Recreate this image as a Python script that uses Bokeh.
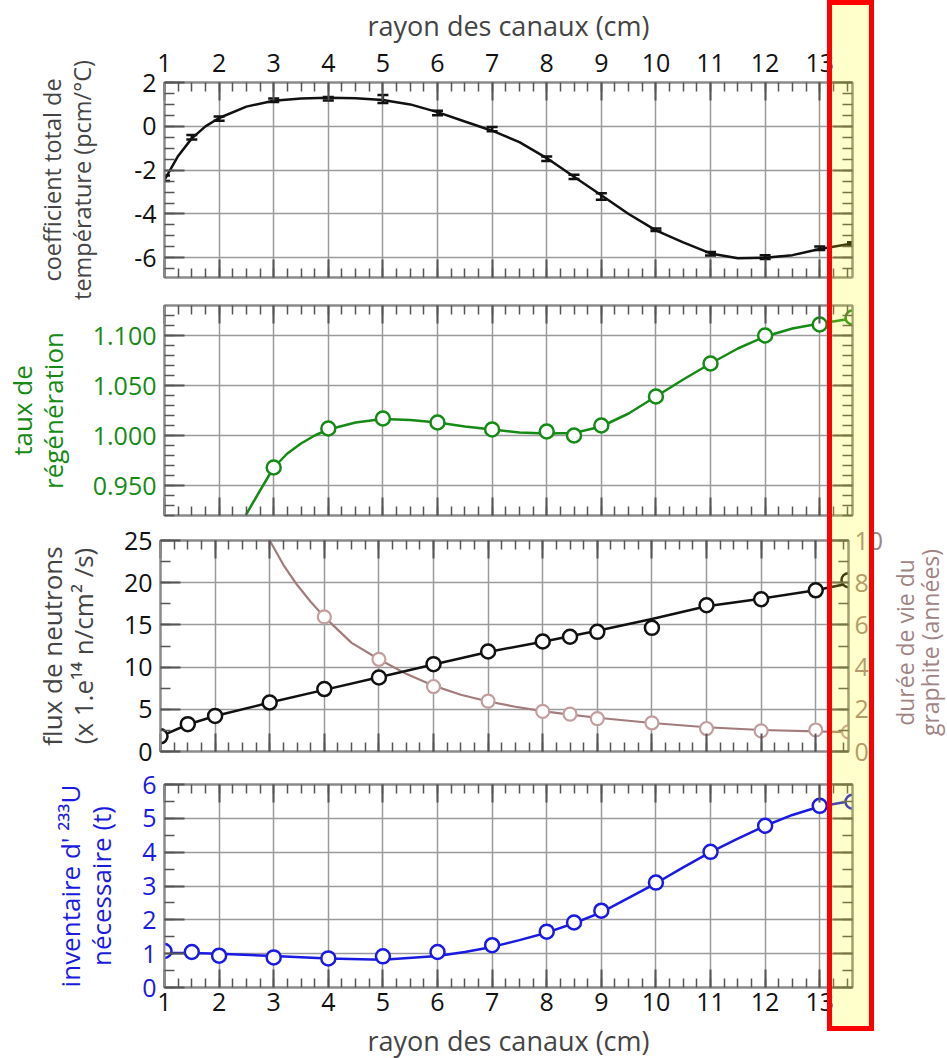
from math import pi
from bokeh.plotting import figure
from bokeh.layouts import column, row
from bokeh.models import (Range1d, LinearAxis, SingleIntervalTicker, NumeralTickFormatter,
                          CustomLabelingPolicy, AllLabels, InlineStyleSheet, Label)
from bokeh.embed import file_html
from bokeh.resources import INLINE

FONT = "Open Sans"

# ---------------- data ----------------
x_ticks = list(range(1, 14))
rayon = [1, 1.5, 2, 3, 4, 5, 6, 7, 8, 8.5, 9, 10, 11, 12, 13, 13.6]

# panel 1 : coefficient total de température (pcm/°C)
coef_temp = [-2.37, -0.5, 0.35, 1.19, 1.26, 1.25, 0.61, -0.13, -1.48, -2.31, -3.2,
             -4.72, -5.82, -5.97, -5.56, -5.37]
coef_err = [0.12, 0.1, 0.1, 0.08, 0.08, 0.18, 0.1, 0.1, 0.1, 0.1, 0.15,
            0.06, 0.08, 0.08, 0.08, 0.08]
coef_curve_x = [1, 1.25, 1.5, 1.75, 2, 2.5, 3, 3.5, 4, 4.5, 5, 5.5, 6, 6.5, 7, 7.5,
                8, 8.5, 9, 9.5, 10, 10.5, 11, 11.5, 12, 12.5, 13, 13.6]
coef_curve_y = [-2.45, -1.35, -0.55, 0.0, 0.38, 0.9, 1.17, 1.27, 1.3, 1.28, 1.2, 1.0,
                0.65, 0.22, -0.2, -0.72, -1.45, -2.3, -3.15, -4.0, -4.75, -5.3,
                -5.8, -6.02, -6.0, -5.88, -5.6, -5.35]

# panel 2 : taux de régénération
regen_x = [3, 4, 5, 6, 7, 8, 8.5, 9, 10, 11, 12, 13, 13.6]
regen = [0.968, 1.007, 1.017, 1.013, 1.006, 1.004, 1.000, 1.010, 1.039, 1.072,
         1.100, 1.111, 1.118]
regen_curve_x = [2.4, 2.75, 3, 3.25, 3.5, 3.75, 4, 4.5, 5, 5.5, 6, 6.5, 7, 7.5, 8,
                 8.5, 9, 9.5, 10, 10.5, 11, 11.5, 12, 12.5, 13, 13.6]
regen_curve_y = [0.912, 0.945, 0.968, 0.982, 0.992, 1.000, 1.006, 1.013, 1.0165,
                 1.0155, 1.013, 1.009, 1.006, 1.003, 1.002, 1.0025, 1.009, 1.022,
                 1.039, 1.056, 1.072, 1.087, 1.099, 1.107, 1.112, 1.117]

# panel 3 : flux de neutrons (x 1e14 n/cm2/s)  +  durée de vie du graphite (années)
flux = [1.8, 3.24, 4.22, 5.8, 7.4, 8.77, 10.35, 11.85, 13.03, 13.6, 14.18, 14.65,
        17.33, 18.04, 19.1, 20.3]
flux_curve_x = [1, 1.5, 2, 3, 4, 5, 6, 7, 8, 9, 10, 11, 12, 13, 13.6]
flux_curve_y = [1.8, 3.2, 4.2, 5.8, 7.3, 8.8, 10.3, 11.8, 13.0, 14.3, 15.7, 17.2,
                18.1, 19.1, 19.9]
life_x = [4, 5, 6, 7, 8, 8.5, 9, 10, 11, 12, 13, 13.6]
life = [6.38, 4.37, 3.08, 2.39, 1.9, 1.77, 1.56, 1.36, 1.09, 0.98, 1.02, 0.93]
life_curve_x = [2.95, 3.0, 3.25, 3.5, 3.75, 4, 4.5, 5, 5.5, 6, 6.5, 7, 7.5, 8, 8.5,
                9, 10, 11, 12, 13, 13.6]
life_curve_y = [10.3, 10.0, 8.85, 7.9, 7.1, 6.38, 5.15, 4.37, 3.68, 3.12, 2.69, 2.37,
                2.12, 1.91, 1.75, 1.6, 1.35, 1.15, 1.02, 0.95, 0.92]

# panel 4 : inventaire d'233U nécessaire (t)
inventaire = [1.08, 1.05, 0.94, 0.89, 0.86, 0.92, 1.05, 1.25, 1.65, 1.92, 2.27, 3.1,
              4.01, 4.78, 5.37, 5.49]
inv_curve_x = [1, 1.5, 2, 3, 4, 5, 6, 6.5, 7, 7.5, 8, 8.5, 9, 9.5, 10, 10.5, 11,
               11.5, 12, 12.5, 13, 13.6]
inv_curve_y = [1.02, 1.02, 1.0, 0.93, 0.86, 0.82, 0.93, 1.05, 1.2, 1.4, 1.62, 1.9,
               2.22, 2.65, 3.08, 3.55, 4.0, 4.4, 4.78, 5.1, 5.35, 5.52]

# ---------------- style ----------------
BLACK = "#111111"
GREEN = "#168a16"
BLUE = "#1a1ae0"
PINK_LINE = "#a27c7c"
PINK_MARK = "#c29e9e"
PINK_TXT = "#a08484"
GRID = "#9a9a9a"
TICK = "#555555"
FW = 688
XR = (1, 13.6)


def style_axis(ax, ticker, labels=False, color=BLACK, size="25px", tick_len=18):
    ax.ticker = ticker
    ax.major_tick_in = tick_len
    ax.major_tick_out = 0
    ax.minor_tick_in = tick_len // 2
    ax.minor_tick_out = 0
    ax.major_tick_line_color = TICK
    ax.major_tick_line_width = 2
    ax.minor_tick_line_color = TICK
    ax.minor_tick_line_width = 1.5
    ax.axis_line_color = "#8a8a8a"
    ax.axis_line_width = 2
    ax.major_label_text_font = FONT
    ax.axis_label_text_font = FONT
    ax.axis_label_text_font_style = "normal"
    ax.axis_label_text_line_height = 0.86
    if labels:
        ax.major_label_text_font_size = size
        ax.major_label_text_color = color
        ax.major_label_standoff = 8
        ax.major_label_policy = AllLabels()
    else:
        ax.major_label_text_font_size = "1px"
        ax.major_label_standoff = 0
        ax.major_label_policy = CustomLabelingPolicy(
            code="for (const i of indices) { indices.unset(i) }\nreturn indices")


def panel(yr, fh, bt, bb, yint, ynminor, xloc, bl=160, br=99):
    p = figure(frame_width=FW, frame_height=fh, x_range=Range1d(*XR), y_range=Range1d(*yr),
               x_axis_location=xloc, y_axis_location="left",
               toolbar_location=None, output_backend="svg",
               min_border_left=bl, min_border_right=br,
               min_border_top=bt, min_border_bottom=bb,
               outline_line_color="#8a8a8a", outline_line_width=2)
    xt = SingleIntervalTicker(interval=1, num_minor_ticks=4)
    yt = SingleIntervalTicker(interval=yint, num_minor_ticks=ynminor)
    for g in p.xgrid:
        g.ticker = xt
        g.grid_line_color = GRID
        g.grid_line_width = 1.5
    for g in p.ygrid:
        g.ticker = yt
        g.grid_line_color = GRID
        g.grid_line_width = 1.5
    main_x = (p.above if xloc == "above" else p.below)[0]
    style_axis(main_x, xt)
    main_y = p.left[0]
    style_axis(main_y, yt, tick_len=20)
    other = LinearAxis()
    style_axis(other, SingleIntervalTicker(interval=1, num_minor_ticks=4))
    p.add_layout(other, "below" if xloc == "above" else "above")
    return p, main_x, main_y


TITLE_X = "rayon des canaux (cm)"

# ---- panel 1 ----
p1, ax1, ay1 = panel((-6.9, 2), 195, 82, 23, 2, 4, "above")
style_axis(ax1, ax1.ticker, labels=True)
ax1.major_label_standoff = 11
ax1.axis_label = TITLE_X
ax1.axis_label_text_font_size = "27px"
ax1.axis_label_standoff = 7
style_axis(ay1, ay1.ticker, labels=True, tick_len=20)
ay1.formatter = NumeralTickFormatter(format="0")
ay1.axis_label = "coefficient total de\ntempérature (pcm/°C)"
ay1.axis_label_text_font_size = "23.5px"
ay1.axis_label_text_line_height = 0.94
ay1.axis_label_standoff = 33
r1 = LinearAxis()
style_axis(r1, SingleIntervalTicker(interval=2, num_minor_ticks=4), tick_len=20)
p1.add_layout(r1, "right")
p1.line(coef_curve_x, coef_curve_y, line_color=BLACK, line_width=2.5)
lo = [v - e for v, e in zip(coef_temp, coef_err)]
hi = [v + e for v, e in zip(coef_temp, coef_err)]
p1.segment(rayon, lo, rayon, hi, line_color=BLACK, line_width=2.5)
p1.scatter(rayon, lo, marker="dash", size=11, line_color=BLACK, line_width=2.5)
p1.scatter(rayon, hi, marker="dash", size=11, line_color=BLACK, line_width=2.5)

# ---- panel 2 ----
p2, ax2, ay2 = panel((0.92, 1.13), 210, 1, 8, 0.05, 5, "below")
style_axis(ay2, ay2.ticker, labels=True, color=GREEN, tick_len=20)
ay2.formatter = NumeralTickFormatter(format="0.000")
ay2.axis_label = "taux de\nrégénération"
ay2.axis_label_text_color = GREEN
ay2.axis_label_text_font_size = "26px"
ay2.axis_label_standoff = 19
r2 = LinearAxis()
style_axis(r2, SingleIntervalTicker(interval=0.05, num_minor_ticks=5), tick_len=20)
p2.add_layout(r2, "right")
p2.line(regen_curve_x, regen_curve_y, line_color=GREEN, line_width=2.5)
p2.scatter(regen_x, regen, marker="circle", size=14, line_color=GREEN, line_width=2.5,
           fill_color="white")

# ---- panel 3 ----
p3, ax3, ay3 = panel((0, 25), 211, 17, 16, 5, 2, "below", br=38)
style_axis(ay3, ay3.ticker, labels=True, tick_len=20)
ay3.axis_label = "flux de neutrons\n(x 1.e¹⁴ n/cm² /s)"
ay3.axis_label_text_font_size = "26px"
ay3.axis_label_standoff = 20
p3.extra_y_ranges = {"life": Range1d(0, 10)}
r3 = LinearAxis(y_range_name="life")
style_axis(r3, SingleIntervalTicker(interval=2, num_minor_ticks=2), labels=True,
           color=PINK_TXT, tick_len=20)
r3.major_label_standoff = 6
p3.add_layout(r3, "right")
p3.line(life_curve_x, life_curve_y, y_range_name="life", line_color=PINK_LINE, line_width=2.2)
p3.scatter(life_x, life, y_range_name="life", marker="circle", size=13,
           line_color=PINK_MARK, line_width=2.2, fill_color="white")
p3.line(flux_curve_x, flux_curve_y, line_color=BLACK, line_width=2.5)
p3.scatter(rayon, flux, marker="circle", size=14, line_color=BLACK, line_width=2.5,
           fill_color="white")

# right-hand title of panel 3, carried by a narrow blank figure beside it
s3 = figure(frame_width=61, frame_height=244, x_range=Range1d(0, 61), y_range=Range1d(0, 244),
            x_axis_location=None, y_axis_location=None, toolbar_location=None,
            output_backend="svg", min_border=0, outline_line_color=None)
s3.grid.visible = False
s3.add_layout(Label(x=31, y=142, text="durée de vie du\ngraphite (années)", angle=pi / 2,
                    text_align="center", text_baseline="middle", text_font=FONT,
                    text_font_size="23px", text_color=PINK_TXT, text_line_height=0.8))

# ---- panel 4 ----
p4, ax4, ay4 = panel((0, 6), 203, 17, 70, 1, 2, "below")
style_axis(ax4, ax4.ticker, labels=True)
ax4.major_label_standoff = 5
ax4.axis_label = TITLE_X
ax4.axis_label_text_font_size = "27px"
ax4.axis_label_standoff = 8
style_axis(ay4, ay4.ticker, labels=True, color=BLUE, tick_len=20)
ay4.axis_label = "inventaire d' ²³³U\nnécessaire (t)"
ay4.axis_label_text_color = BLUE
ay4.axis_label_text_font_size = "26px"
ay4.axis_label_standoff = 20
r4 = LinearAxis()
style_axis(r4, SingleIntervalTicker(interval=1, num_minor_ticks=2), tick_len=20)
p4.add_layout(r4, "right")
p4.line(inv_curve_x, inv_curve_y, line_color=BLUE, line_width=2.5)
p4.scatter(rayon, inventaire, marker="circle", size=14, line_color=BLUE, line_width=2.5,
           fill_color="white")

# highlighted strip over the right edge of all four panels
strip = InlineStyleSheet(css="""
:host::after {
  content: "";
  position: absolute;
  left: 827px;
  top: 0px;
  width: 47px;
  height: 1031px;
  box-sizing: border-box;
  border: 5px solid #ff0000;
  background: rgba(255, 255, 0, 0.2);
  pointer-events: none;
  z-index: 100;
}
""")

layout = column(p1, p2, row(p3, s3, spacing=0), p4, spacing=0, stylesheets=[strip])
open("out.html", "w").write(file_html(layout, INLINE))
